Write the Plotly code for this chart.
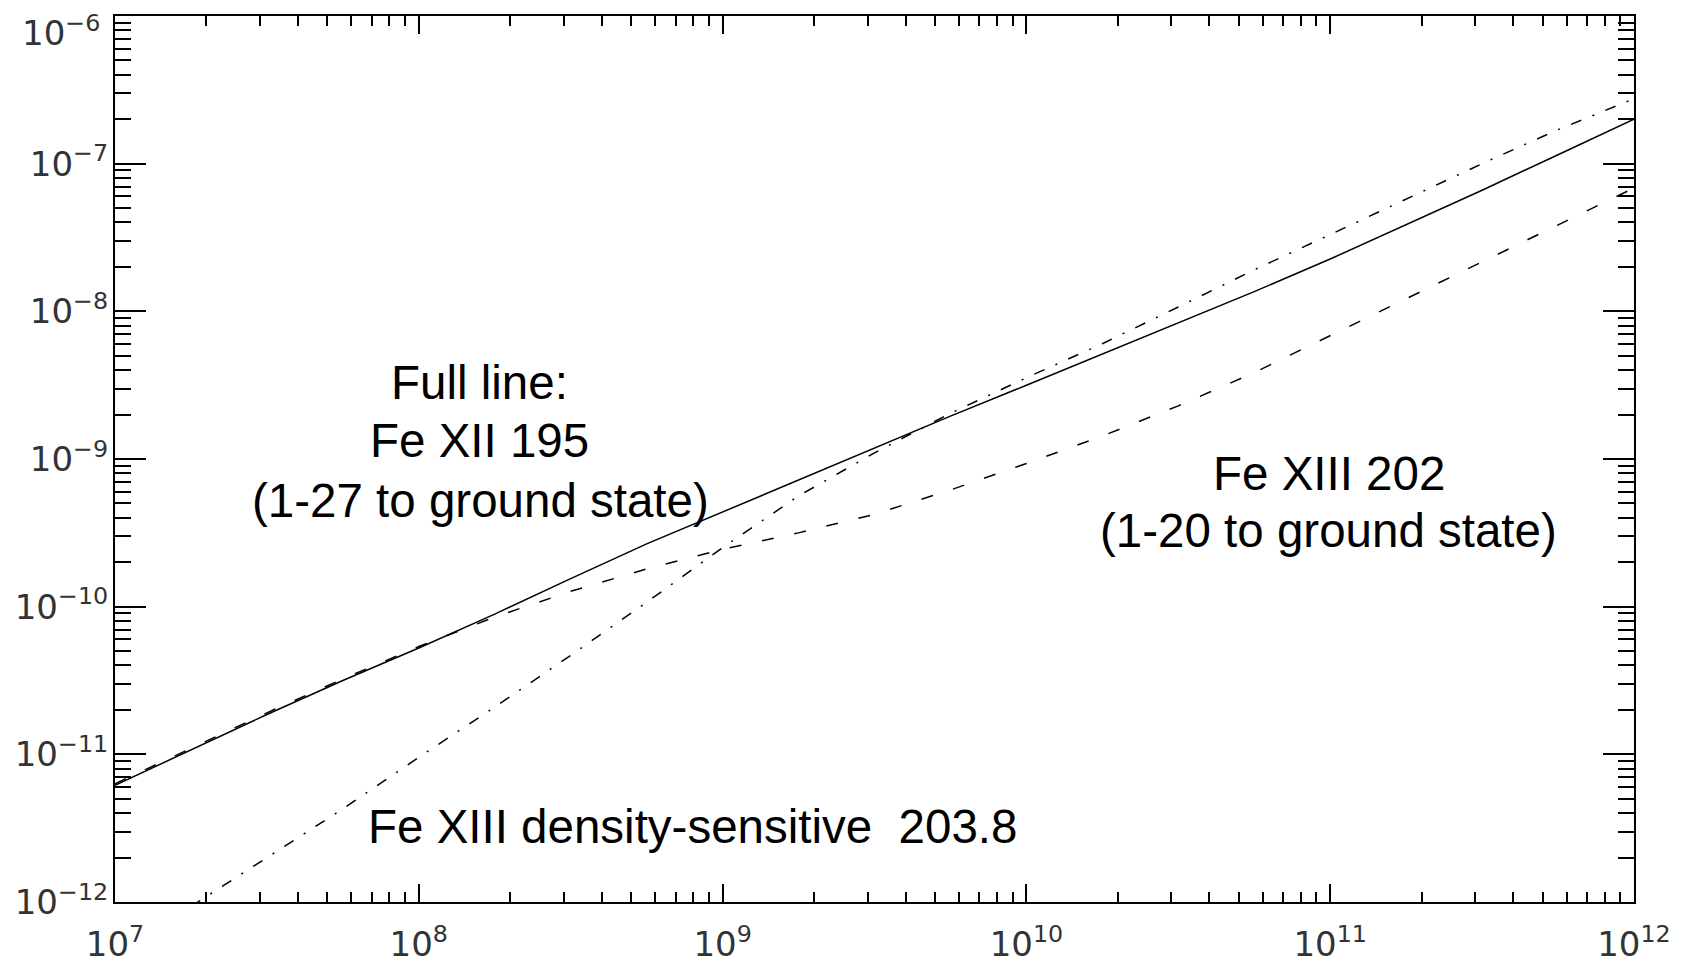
import plotly.graph_objects as go

# Electron density (cm^-3)
density = [1.0e7, 1.778e7, 3.162e7, 5.623e7, 1.0e8, 1.778e8, 3.162e8, 5.623e8,
           1.0e9, 1.778e9, 3.162e9, 5.623e9, 1.0e10, 1.778e10, 3.162e10, 5.623e10,
           1.0e11, 1.778e11, 3.162e11, 5.623e11, 1.0e12]

# Full line: Fe XII 195
fe12_195 = [6.17e-12, 1.07e-11, 1.86e-11, 3.16e-11, 5.25e-11, 8.91e-11, 1.55e-10, 2.66e-10,
            4.37e-10, 7.16e-10, 1.19e-9, 1.95e-9, 3.16e-9, 5.13e-9, 8.32e-9, 1.36e-8,
            2.26e-8, 3.85e-8, 6.61e-8, 1.15e-7, 2.00e-7]

# Dashed: Fe XIII 202
fe13_202 = [6.31e-12, 1.10e-11, 1.91e-11, 3.24e-11, 5.37e-11, 8.51e-11, 1.27e-10, 1.80e-10,
            2.45e-10, 3.16e-10, 4.22e-10, 6.17e-10, 9.33e-10, 1.43e-9, 2.29e-9, 3.85e-9,
            6.84e-9, 1.22e-8, 2.16e-8, 3.85e-8, 6.84e-8]

# Dot-dash: Fe XIII 203.8 (density sensitive)
density_203 = density[1:]
fe13_203 = [9.33e-13, 2.00e-12, 4.27e-12, 9.55e-12, 2.09e-11, 4.68e-11, 1.07e-10,
            2.51e-10, 5.62e-10, 1.10e-9, 2.04e-9, 3.55e-9, 6.03e-9, 1.07e-8, 1.91e-8,
            3.31e-8, 5.75e-8, 1.00e-7, 1.70e-7, 2.75e-7]

x_exps = [7, 8, 9, 10, 11, 12]
y_exps = [-12, -11, -10, -9, -8, -7, -6]

x_ticktext = ["10<sup>%d</sup>" % e for e in x_exps]
y_ticktext = ["10<sup>\u2212%d</sup>" % (-e) for e in y_exps]
y_ticktext[-1] = ""  # top label drawn separately (shifted down like the original)

x_minor = [k * 10.0 ** e for e in x_exps[:-1] for k in range(2, 10)]
y_minor = [k * 10.0 ** e for e in y_exps[:-1] for k in range(2, 10)]

fig = go.Figure()
fig.add_trace(go.Scatter(x=density, y=fe12_195, mode="lines",
                         line=dict(color="black", width=1.5)))
fig.add_trace(go.Scatter(x=density, y=fe13_202, mode="lines",
                         line=dict(color="black", width=1.5, dash="12px,21px")))
fig.add_trace(go.Scatter(x=density_203, y=fe13_203, mode="lines",
                         line=dict(color="black", width=1.5, dash="11px,12px,2px,12px")))

tick_font = dict(family="DejaVu Sans", size=34, color="#333333")

fig.update_xaxes(type="log", range=[7, 12], showgrid=False, zeroline=False,
                 showline=True, linecolor="black", linewidth=2, mirror="allticks",
                 ticks="inside", ticklen=18, tickwidth=2, tickcolor="black",
                 tickmode="array", tickvals=[10.0 ** e for e in x_exps], ticktext=x_ticktext,
                 tickfont=tick_font, ticklabelstandoff=11, automargin=False,
                 minor=dict(ticks="inside", ticklen=10, tickwidth=2, tickcolor="black",
                            tickmode="array", tickvals=x_minor, showgrid=False))
fig.update_yaxes(type="log", range=[-12, -6], showgrid=False, zeroline=False,
                 showline=True, linecolor="black", linewidth=2, mirror="allticks",
                 ticks="inside", ticklen=31, tickwidth=2, tickcolor="black",
                 tickmode="array", tickvals=[10.0 ** e for e in y_exps], ticktext=y_ticktext,
                 tickfont=tick_font, ticklabelstandoff=-2, automargin=False,
                 minor=dict(ticks="inside", ticklen=16, tickwidth=2, tickcolor="black",
                            tickmode="array", tickvals=y_minor, showgrid=False))

label_font = dict(family="Liberation Sans, Arial, sans-serif", size=47.5, color="black")
annotations = [
    dict(x=8.20, y=-8.485, text="Full line:"),
    dict(x=8.20, y=-8.873, text="Fe XII 195"),
    dict(x=8.204, y=-9.282, text="(1-27 to ground state)"),
    dict(x=10.995, y=-9.099, text="Fe XIII 202"),
    dict(x=10.995, y=-9.487, text="(1-20 to ground state)"),
    dict(x=8.90, y=-11.49, text="Fe XIII density-sensitive\u00a0 203.8"),
]
for a in annotations:
    fig.add_annotation(xref="x", yref="y", showarrow=False, xanchor="center",
                       yanchor="middle", font=label_font, **a)

# top y-axis label, placed slightly below its tick as in the original
fig.add_annotation(xref="paper", yref="paper", x=-0.0085, y=1.0, xanchor="right",
                   yanchor="middle", showarrow=False, text="10<sup>\u22126</sup>",
                   font=tick_font, yshift=-15)

# faint border strip at the right edge of the picture
fig.add_shape(type="rect", xref="paper", yref="paper", x0=1.0323, x1=1.036,
              y0=-0.1, y1=1.05, fillcolor="#eef4f8", line=dict(width=0), layer="below")

# the page body adds an 8px margin, so the figure is sized to fit the window
fig.update_layout(width=1678, height=955, showlegend=False,
                  margin=dict(l=107, r=52, t=8, b=61),
                  paper_bgcolor="white", plot_bgcolor="white")

fig.write_html("out.html")
